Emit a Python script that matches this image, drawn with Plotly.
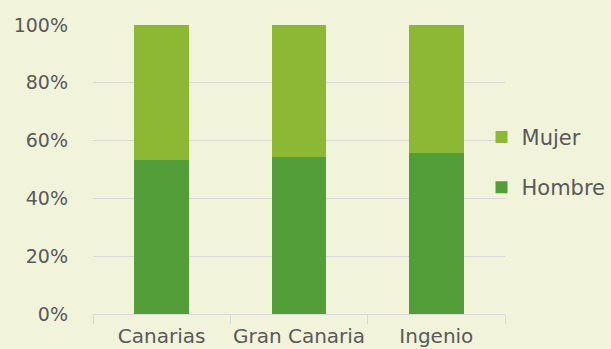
import plotly.graph_objects as go

categories = ["Canarias", "Gran Canaria", "Ingenio"]
hombre = [53.4, 54.2, 55.6]
mujer = [round(100 - v, 1) for v in hombre]
y_ticks = [0, 20, 40, 60, 80, 100]
y_tick_labels = ["0%", "20%", "40%", "60%", "80%", "100%"]

BG = "#F1F4DA"
TEXT = "#595959"
GRID = "#D9D9D9"
FONT = "DejaVu Sans, sans-serif"

fig = go.Figure()
fig.add_trace(go.Bar(name="Hombre", x=categories, y=hombre, legendgroup="h", legendrank=2,
                     marker=dict(color="#539E39", line=dict(width=0))))
fig.add_trace(go.Bar(name="Mujer", x=categories, y=mujer, legendgroup="m", legendrank=1,
                     marker=dict(color="#8DB833", line=dict(width=0))))

fig.update_layout(
    barmode="stack",
    bargap=0.6,
    width=611, height=349,
    margin=dict(l=93, r=106, t=25, b=35, autoexpand=False),
    paper_bgcolor=BG, plot_bgcolor=BG,
    font=dict(family=FONT, size=19, color=TEXT),
    legend=dict(traceorder="grouped", tracegroupgap=20,
                x=0.943, xanchor="left", y=0.525, yanchor="middle",
                font=dict(size=21, color=TEXT), bgcolor="rgba(0,0,0,0)",
                itemwidth=30),
    showlegend=True,
)
fig.update_xaxes(showgrid=False, showline=True, linecolor=GRID, linewidth=1,
                 ticks="outside", tickson="boundaries", ticklen=9, tickcolor=GRID,
                 tickangle=0, automargin=False,
                 ticklabelstandoff=4, tickfont=dict(size=20, color=TEXT))
fig.update_yaxes(range=[0, 100], tickvals=y_ticks, ticktext=y_tick_labels,
                 showgrid=True, gridcolor=GRID, gridwidth=1, zeroline=False,
                 automargin=False,
                 ticks="", ticklabelstandoff=24, tickfont=dict(size=19, color=TEXT))

fig.write_html("out.html")
